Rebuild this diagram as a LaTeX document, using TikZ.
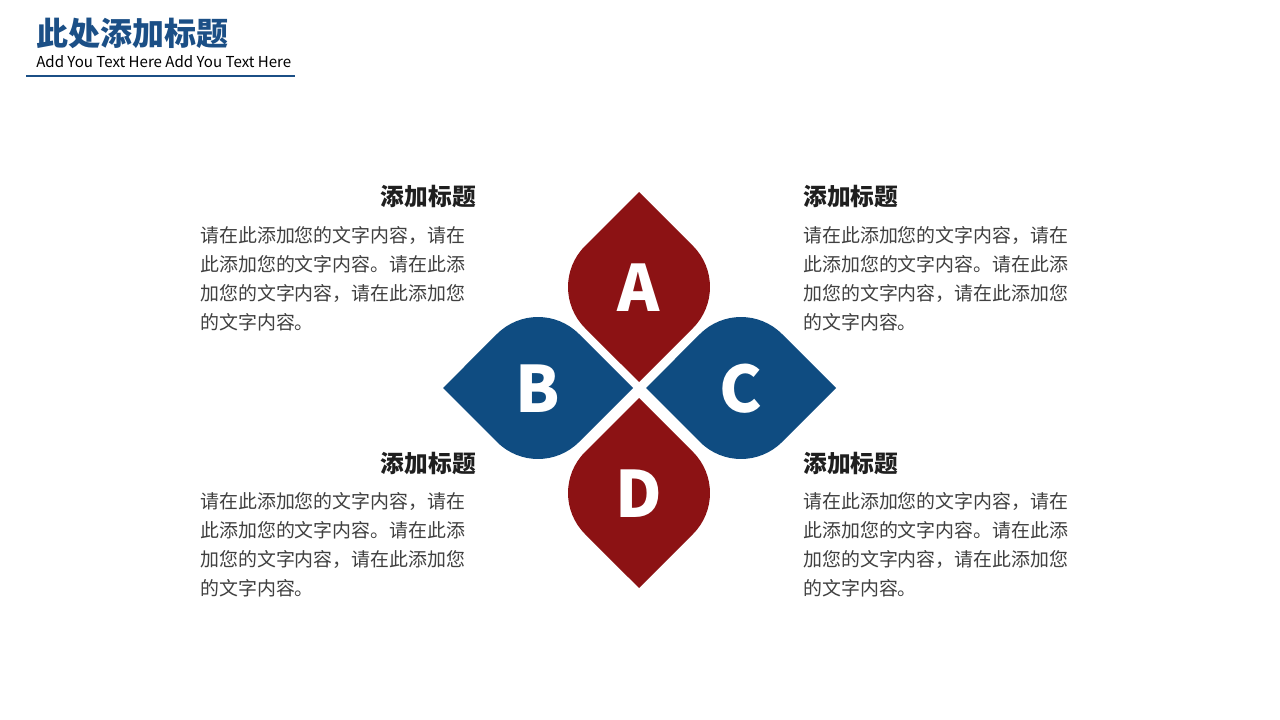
\documentclass[tikz,border=0pt]{standalone}
\usepackage{fontspec}
\setmainfont{Noto Sans CJK SC}
\usetikzlibrary{calc}

\definecolor{titleblue}{HTML}{1B4F86}
\definecolor{petalblue}{HTML}{0F4C81}
\definecolor{petalred}{HTML}{8C1214}
\definecolor{bodygray}{HTML}{404040}

\tikzset{
  petal/.pic={
    \path[pic actions] (0,95) -- (54,41) arc[start angle=45, end angle=-45, radius=58]
      -- (0,-95) -- (-54,-41) arc[start angle=225, end angle=135, radius=58] -- cycle;
  },
  letter/.style={text=white, inner sep=0, font=\fontsize{48}{48}\selectfont\bfseries},
  head/.style={text=black!88, inner sep=0, font=\fontsize{17.8}{17.8}\selectfont\bfseries},
  body/.style={text=bodygray, inner sep=0, align=left, anchor=north west,
    font=\fontsize{14.2}{21.75}\selectfont},
}

\begin{document}
\begin{tikzpicture}[x=0.75pt, y=-0.75pt]
  \useasboundingbox[fill=white] (0,0) rectangle (1280,720);

  %% title
  \node[anchor=west, inner sep=0, text=titleblue, font=\fontsize{24}{24}\selectfont\bfseries] (title) at (36,33) {此处添加标题};
  \node[anchor=west, inner sep=0, font=\fontsize{11.3}{11.3}\selectfont] (subtitle) at (36,62) {Add You Text Here Add You Text Here};
  \coordinate (ul0) at (26,76);
  \coordinate (ul1) at (295,76);
  \draw[titleblue, line width=2.2pt] (ul0) -- (ul1);

  %% petals
  \pic[fill=petalred] at (639,287) {petal};
  \pic[fill=petalred] at (639,493) {petal};
  \pic[fill=petalblue, rotate=90] at (538,388) {petal};
  \pic[fill=petalblue, rotate=90] at (741,388) {petal};

  \node[letter] (a) at (639,288) {A};
  \node[letter] (b) at (538,389) {B};
  \node[letter] (c) at (741,389) {C};
  \node[letter] (d) at (639,494) {D};

  %% left top
  \node[head, anchor=east] (head0) at (476,196) {添加标题};
  \node[body] (body0) at (200,226) {请在此添加您的文字内容，请在\\此添加您的文字内容。请在此添\\加您的文字内容，请在此添加您\\的文字内容。};

  %% right top
  \node[head, anchor=west] (head1) at (803,196) {添加标题};
  \node[body] (body1) at (803,226) {请在此添加您的文字内容，请在\\此添加您的文字内容。请在此添\\加您的文字内容，请在此添加您\\的文字内容。};

  %% left bottom
  \node[head, anchor=east] (head2) at (476,463) {添加标题};
  \node[body] (body2) at (200,492) {请在此添加您的文字内容，请在\\此添加您的文字内容。请在此添\\加您的文字内容，请在此添加您\\的文字内容。};

  %% right bottom
  \node[head, anchor=west] (head3) at (803,463) {添加标题};
  \node[body] (body3) at (803,492) {请在此添加您的文字内容，请在\\此添加您的文字内容。请在此添\\加您的文字内容，请在此添加您\\的文字内容。};
\end{tikzpicture}
\end{document}
